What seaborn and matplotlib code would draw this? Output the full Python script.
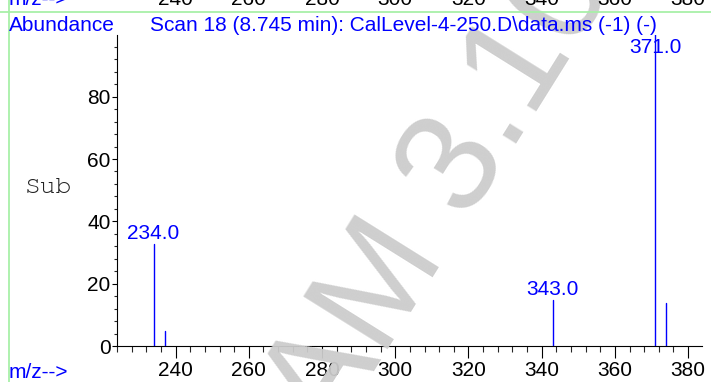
import matplotlib
matplotlib.use("Agg")
import matplotlib.pyplot as plt
import matplotlib.transforms as mtransforms
from matplotlib.lines import Line2D
from matplotlib.ticker import MultipleLocator
from matplotlib import font_manager
import numpy as np
import pandas as pd
import seaborn as sns

# ---- data ----
mz = [234.0, 237.0, 343.0, 371.0, 374.0]
abundance = [32.7, 4.8, 14.8, 100.0, 13.9]
labeled = [234.0, 343.0, 371.0]
x_ticks = [240, 260, 280, 300, 320, 340, 360, 380]
y_ticks = [0, 20, 40, 60, 80]
title_left = "Abundance"
title_scan = "Scan 18 (8.745 min): CalLevel-4-250.D\\data.ms (-1) (-)"
xlabel = "m/z-->"
side_label = "Sub"
watermark = "AM 3.10"

sns.set_theme(style="ticks")
plt.rcParams["font.family"] = ["Liberation Sans", "DejaVu Sans"]

# pick a Courier-like face if one is installed
installed = {f.name for f in font_manager.fontManager.ttflist}
mono_choices = ["Courier New", "Courier", "Nimbus Mono PS", "Nimbus Mono L",
                "FreeMono", "Liberation Mono", "DejaVu Sans Mono"]
mono = [f for f in mono_choices if f in installed] or ["DejaVu Sans Mono"]

W, H = 711, 382
fig = plt.figure(figsize=(W / 100, H / 100), dpi=100)
ax = fig.add_axes([117 / W, (H - 346) / H, (702 - 117) / W, (346 - 35) / H])

# stick spectrum via seaborn (each peak = one unit from 0 to its abundance)
rows = []
for i, (m, a) in enumerate(zip(mz, abundance)):
    rows.append({"mz": m, "ab": 0.0, "peak": i})
    rows.append({"mz": m, "ab": a, "peak": i})
df = pd.DataFrame(rows)
sns.lineplot(data=df, x="mz", y="ab", units="peak", estimator=None,
             color="#0000ff", linewidth=1.0, ax=ax, sort=False)

ax.set_xlim(224, 383.8)
ax.set_ylim(0, 99.8)
ax.set_xlabel("")
ax.set_ylabel("")
ax.set_xticks(x_ticks)
ax.set_yticks(y_ticks)
ax.xaxis.set_minor_locator(MultipleLocator(4))
ax.yaxis.set_minor_locator(MultipleLocator(4))
ax.tick_params(axis="x", which="major", length=8.5, width=0.8, direction="out",
               labelsize=15, pad=2, colors="black")
ax.tick_params(axis="x", which="minor", length=4.5, width=0.8, direction="out")
ax.tick_params(axis="y", which="major", length=3.5, width=0.8, direction="out",
               labelsize=15, pad=1, colors="black")
ax.tick_params(axis="y", which="minor", length=2, width=0.8, direction="out")
sns.despine(ax=ax, top=True, right=True)
for s in ["left", "bottom"]:
    ax.spines[s].set_linewidth(0.8)
    ax.spines[s].set_color("black")
ax.patch.set_alpha(0)

# peak labels
ymax = ax.get_ylim()[1]
for m, a in zip(mz, abundance):
    if m in labeled:
        if a > ymax - 8:
            ax.annotate(f"{m:.1f}", xy=(m, ymax), xytext=(0, -2),
                        textcoords="offset points", ha="center", va="top",
                        color="#0000ff", fontsize=15, annotation_clip=False)
        else:
            ax.annotate(f"{m:.1f}", xy=(m, a), xytext=(0, 3.5),
                        textcoords="offset points", ha="center", va="baseline",
                        color="#0000ff", fontsize=15)

# texts
fig.text(9 / W, (H - 31) / H, title_left, color="#0000ff", fontsize=15,
         ha="left", va="baseline")
fig.text(150 / W, (H - 31) / H, title_scan, color="#0000ff", fontsize=15,
         ha="left", va="baseline")
fig.text(9 / W, (H - 378) / H, xlabel, color="#0000ff", fontsize=15,
         ha="left", va="baseline")
fig.text(25 / W, (H - 193) / H, side_label, color="#222222", fontsize=19,
         ha="left", va="baseline", family=mono)

# remnants of the previous spectrum at the top edge
blend = mtransforms.blended_transform_factory(ax.transData, fig.transFigure)
for t in x_ticks:
    fig.text(t, (H - 5) / H, str(t), transform=blend, fontsize=15,
             ha="center", va="baseline", color="black")
fig.text(9 / W, (H - 5) / H, xlabel, color="#0000ff", fontsize=15,
         ha="left", va="baseline")

# green frame lines
fig.add_artist(Line2D([0, 1], [(H - 11.5) / H] * 2, transform=fig.transFigure,
                      color="#a8f0a8", linewidth=1.3))
fig.add_artist(Line2D([8.5 / W] * 2, [0, 1], transform=fig.transFigure,
                      color="#a8f0a8", linewidth=1.3))

# watermark
fig.text(442 / W, (H - 192) / H, watermark, rotation=58, rotation_mode="anchor",
         ha="center", va="center", fontsize=104, color="#cccccc", alpha=0.95,
         zorder=0)

fig.savefig("out.png", dpi=100, facecolor="white")
